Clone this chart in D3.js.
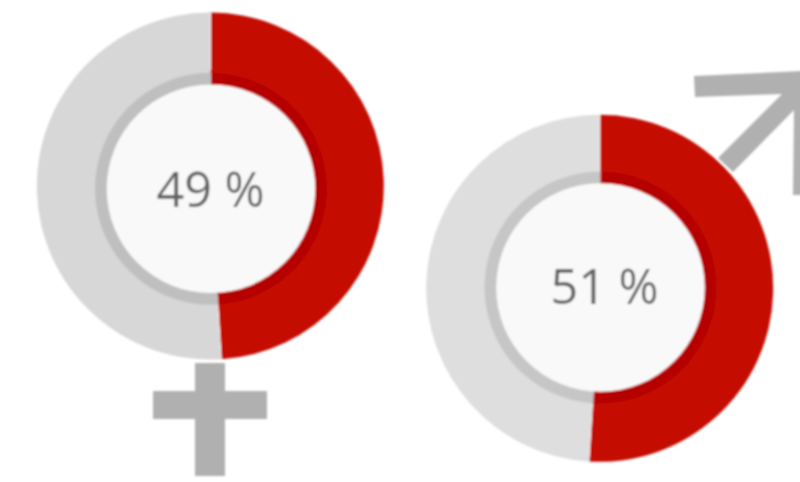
<!DOCTYPE html>
<html>
<head>
<meta http-equiv="Content-Type" content="text/html; charset=UTF-8">
<style>
html, body { margin: 0; padding: 0; background: #fff; }
svg { display: block; }
</style>
</head>
<body>

<div class="container"></div>

<script src="https://cdnjs.cloudflare.com/ajax/libs/d3/7.8.5/d3.min.js"></script>
<script>

var width = 800;
var height = 482;

// share of each group, the rest of the ring is grey
var groups = ["female", "male"];
var shares = [49, 51];
var labels = ["49 %", "51 %"];

var red = "#c40a00";
var redDark = "#b60600";
var greys = ["#d7d7d7", "#dedede"];
var greysDark = ["#bfbfbf", "#c6c6c6"];
var iconGrey = "#b0b0b0";

var svg = d3.select(".container")
            .append("svg")
                .attr("width", width)
                .attr("height", height);

// the reference is a scaled up image, so everything is a little soft
var blur = svg.append("defs").append("filter")
              .attr("id", "soft")
              .attr("filterUnits", "userSpaceOnUse")
              .attr("x", 0).attr("y", 0)
              .attr("width", width).attr("height", height);
blur.append("feGaussianBlur").attr("stdDeviation", 0.8);

var root = svg.append("g").attr("filter", "url(#soft)");

// gender symbols go under the rings
var line = d3.line();
var symbols = [
    [[195, 363], [225, 363], [225, 391], [267, 391], [267, 419], [225, 419], [225, 476], [195, 476], [195, 419], [153, 419], [153, 391], [195, 391]],
    [[694, 76], [803, 71], [803, 195], [793, 195], [794, 110], [733, 172], [718, 158], [782, 94], [695, 97]]
];
root.selectAll(".symbol")
    .data(symbols)
    .enter().append("path")
        .attr("class", "symbol")
        .attr("d", function(d) { return line(d) + "Z"; })
        .style("fill", iconGrey);

var pie = d3.pie().sort(null).value(function(d) { return d; });

// the outer ring and the inner disc are not quite concentric in the picture
var centers = [[210.3, 186], [599.7, 288.3]];
var discCenters = [[211, 188.8], [600.5, 287.5]];
var outerRadius = 173.5;
var ringRadius = 116;
var discRadius = 104.3;

var outerArc = d3.arc().innerRadius(0).outerRadius(outerRadius);
var ringArc = d3.arc().innerRadius(0).outerRadius(ringRadius);

var donut = root.selectAll(".donut")
    .data(groups)
    .enter().append("g")
        .attr("class", "donut");

donut.each(function(name, i) {
    var slices = pie([shares[i], 100 - shares[i]]);

    var outer = d3.select(this).append("g")
        .attr("transform", "translate(" + centers[i] + ")");
    var inner = d3.select(this).append("g")
        .attr("transform", "translate(" + discCenters[i] + ")");

    outer.selectAll(".slice")
        .data(slices)
        .enter().append("path")
            .attr("class", "slice")
            .attr("d", outerArc)
            .style("fill", function(d, j) { return j === 0 ? red : greys[i]; });

    inner.selectAll(".inner")
        .data(slices)
        .enter().append("path")
            .attr("class", "inner")
            .attr("d", ringArc)
            .style("fill", function(d, j) { return j === 0 ? redDark : greysDark[i]; });

    // thin white gap between red and grey
    outer.selectAll(".gap")
        .data(slices)
        .enter().append("line")
            .attr("class", "gap")
            .attr("x1", function(d) { return ringRadius * Math.sin(d.startAngle); })
            .attr("y1", function(d) { return -ringRadius * Math.cos(d.startAngle); })
            .attr("x2", function(d) { return outerRadius * Math.sin(d.startAngle); })
            .attr("y2", function(d) { return -outerRadius * Math.cos(d.startAngle); })
            .style("stroke", "#f6f6f6")
            .style("stroke-width", 1);

    inner.append("circle")
        .attr("r", discRadius)
        .style("fill", "#f9f9f9");

    inner.append("text")
        .attr("text-anchor", "middle")
        .attr("x", i === 0 ? -0.5 : 4)
        .attr("y", i === 0 ? 18 : 16)
        .style("font-family", "'Open Sans'")
        .style("font-size", "48.5px")
        .style("fill", "#606060")
        .text(labels[i]);
});

</script>
</body>
</html>
